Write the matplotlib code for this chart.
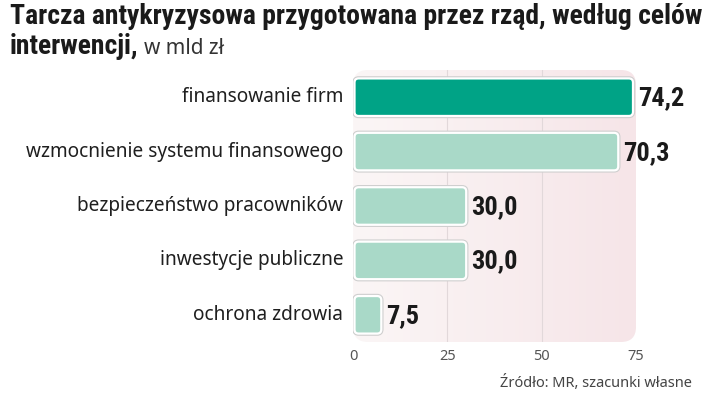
import numpy as np
from matplotlib import pyplot as plt
from matplotlib.patches import FancyBboxPatch
from matplotlib.colors import LinearSegmentedColormap

# %% data
categories = ["finansowanie firm", "wzmocnienie systemu finansowego",
              "bezpieczeństwo pracowników", "inwestycje publiczne", "ochrona zdrowia"]
values = [74.2, 70.3, 30.0, 30.0, 7.5]
value_labels = ["74,2", "70,3", "30,0", "30,0", "7,5"]
ticks = [0, 25, 50, 75]

main_col = "#00a386"
light_col = "#a9d9c8"

COND = ["Roboto Condensed", "Noto Sans Condensed", "DejaVu Sans Condensed", "Noto Sans"]
REG = ["Noto Sans", "DejaVu Sans"]

# %% figure
fig = plt.figure(figsize=(7.2, 3.94), dpi=100)
ax = fig.add_axes([353 / 720, 1 - 342 / 394, 283 / 720, 272 / 394])
ax.set_xlim(0, 75)
ax.set_ylim(4.5, -0.5)
ax.axis("off")

# background rounded panel with gradient
bg = FancyBboxPatch((0, -0.5), 75, 5.0, boxstyle="round,pad=0,rounding_size=4",
                    mutation_aspect=3.77 / 54.4, transform=ax.transData,
                    facecolor="none", edgecolor="none", zorder=0)
ax.add_patch(bg)
grad = np.linspace(0, 1, 256).reshape(1, -1)
cmap = LinearSegmentedColormap.from_list("bgg", ["#fbf6f6", "#f6e5e8"])
im = ax.imshow(grad, extent=(0, 75, 4.5, -0.5), aspect="auto", cmap=cmap, zorder=0)
im.set_clip_path(bg)

for t in ticks[1:-1]:
    ax.plot([t, t], [-0.5, 4.5], color="#e2d8da", lw=0.8, zorder=1)

# bars
bars = ax.barh(range(len(values)), values, height=0.69, color="none")
for i, b in enumerate(bars):
    x0, y0 = b.get_x(), b.get_y()
    w, h = b.get_width(), b.get_height()
    col = main_col if i == 0 else light_col
    for ec, lw, z in [("#cfcfcf", 3.2, 2), ("#ffffff", 1.6, 3)]:
        p = FancyBboxPatch((x0 + 0.4, y0), w - 0.4, h,
                           boxstyle="round,pad=0,rounding_size=1.1",
                           mutation_aspect=3.77 / 54.4,
                           facecolor=col, edgecolor=ec, lw=lw, zorder=z)
        ax.add_patch(p)
    ax.text(values[i] + 1.3, i + 0.02, value_labels[i], ha="left", va="center",
            fontsize=19, fontweight="bold", family=COND, fontstretch="condensed",
            color="#1a1a1a", clip_on=False)
    ax.text(-2.6, i, categories[i], ha="right", va="center", fontsize=13.7,
            family=REG, color="#1f1f1f", clip_on=False)

for t in ticks:
    ax.text(t, 4.5 + 0.27, str(t), ha="center", va="center", fontsize=10.5,
            family=REG, color="#555555", clip_on=False)

# title
fig.text(10 / 720, 1 - 17 / 394, "Tarcza antykryzysowa przygotowana przez rząd, według celów",
         ha="left", va="center", fontsize=19.9, fontweight="bold", family=COND,
         fontstretch="condensed", color="#1a1a1a")
t2 = fig.text(10 / 720, 1 - 47 / 394, "interwencji,", ha="left", va="center",
              fontsize=19.9, fontweight="bold", family=COND, fontstretch="condensed",
              color="#1a1a1a")
fig.canvas.draw()
bb = t2.get_window_extent()
fig.text(bb.x1 / 720 + 5 / 720, 1 - 48 / 394, "w mld zł", ha="left", va="center",
         fontsize=15, family=REG, fontweight="light", color="#333333")

fig.text(692 / 720, 1 - 383 / 394, "Źródło: MR, szacunki własne", ha="right", va="center",
         fontsize=10.5, family=REG, color="#444444")

fig.savefig("out.png", dpi=100)
